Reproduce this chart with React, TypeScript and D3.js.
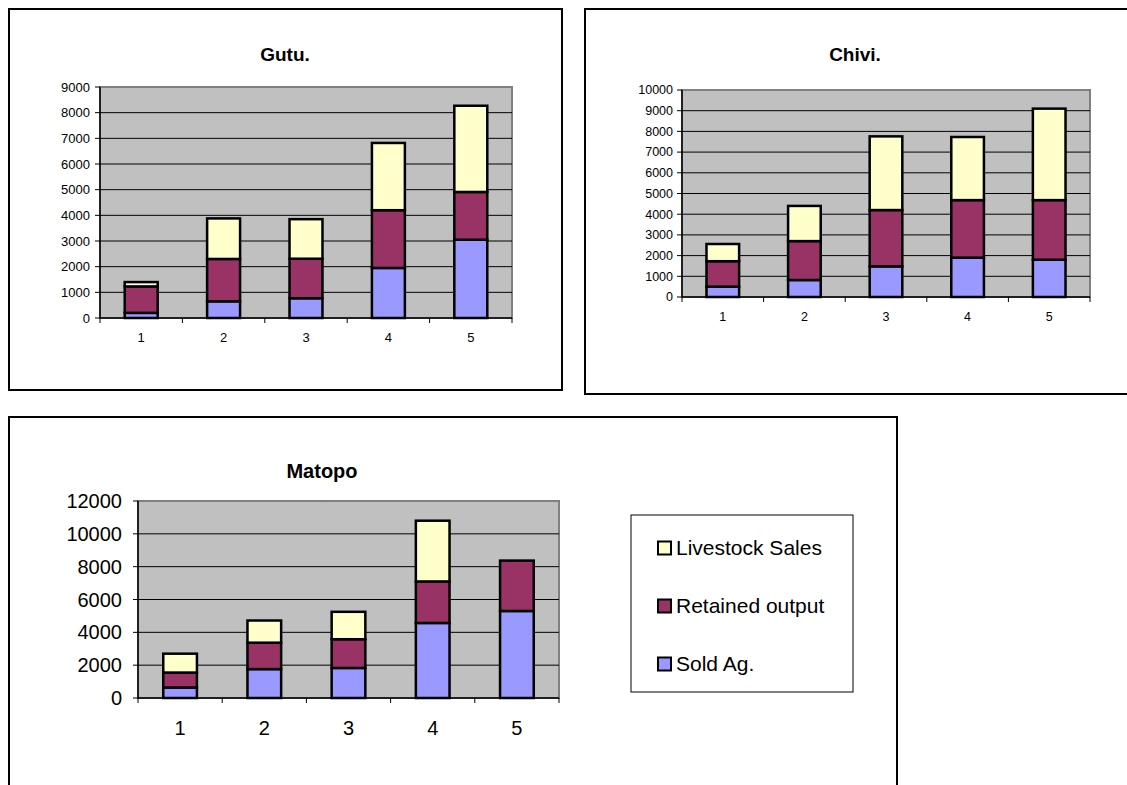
import React from "react";
import * as d3 from "d3";

const categories = ["1", "2", "3", "4", "5"];
const seriesKeys = ["sold", "retained", "livestock"];
const seriesLabels = ["Sold Ag.", "Retained output", "Livestock Sales"];
const seriesColors = ["#9999FF", "#993366", "#FFFFCC"];

const gutuSold = [200, 650, 770, 1950, 3050];
const gutuRetained = [1030, 1650, 1540, 2250, 1860];
const gutuLivestock = [170, 1580, 1540, 2620, 3360];
const gutuTicks = [0, 1000, 2000, 3000, 4000, 5000, 6000, 7000, 8000, 9000];

const chiviSold = [500, 820, 1480, 1900, 1800];
const chiviRetained = [1230, 1880, 2720, 2780, 2880];
const chiviLivestock = [830, 1700, 3560, 3050, 4420];
const chiviTicks = [0, 1000, 2000, 3000, 4000, 5000, 6000, 7000, 8000, 9000, 10000];

const matopoSold = [640, 1760, 1830, 4570, 5300];
const matopoRetained = [910, 1610, 1750, 2530, 3070];
const matopoLivestock = [1150, 1350, 1670, 3700, 0];
const matopoTicks = [0, 2000, 4000, 6000, 8000, 10000, 12000];

const FONT = "Arial, 'Liberation Sans', Helvetica, sans-serif";

type Rect = { x: number; y: number; w: number; h: number };

function build(sold: number[], retained: number[], livestock: number[]) {
  return categories.map((c, i) => ({
    cat: c,
    sold: sold[i],
    retained: retained[i],
    livestock: livestock[i],
  }));
}

function StackChart(props: {
  title: string;
  box: Rect;
  plot: Rect;
  titleX: number;
  titleY: number;
  titleSize: number;
  tickSize: number;
  labelGap: number;
  xLabelOffset: number;
  ticks: number[];
  data: any[];
}) {
  const { title, box, plot, titleX, titleY, titleSize, tickSize, labelGap, xLabelOffset, ticks, data } = props;
  const yMax = ticks[ticks.length - 1];
  const x = d3
    .scaleBand()
    .domain(categories)
    .range([plot.x, plot.x + plot.w])
    .paddingInner(0.6)
    .paddingOuter(0.3);
  const y = d3.scaleLinear().domain([0, yMax]).range([plot.y + plot.h, plot.y]);
  const stacked = d3.stack().keys(seriesKeys)(data);
  const step = plot.w / categories.length;
  const bottom = plot.y + plot.h;
  return (
    <g>
      <rect x={box.x} y={box.y} width={box.w} height={box.h} fill="#fff" stroke="#000" strokeWidth={2} />
      <text x={titleX} y={titleY} textAnchor="middle" fontFamily={FONT} fontWeight="bold" fontSize={titleSize} fill="#000">
        {title}
      </text>
      <rect x={plot.x} y={plot.y} width={plot.w} height={plot.h} fill="#C0C0C0" stroke="#808080" strokeWidth={2} />
      {ticks.slice(1, -1).map((t) => (
        <line key={"g" + t} x1={plot.x} x2={plot.x + plot.w} y1={y(t)} y2={y(t)} stroke="#000" strokeWidth={1} />
      ))}
      {stacked.map((s, si) =>
        s.map((d, i) => {
          const h = y(d[0]) - y(d[1]);
          if (h <= 0) return null;
          return (
            <rect
              key={si + "-" + i}
              x={x(categories[i])}
              y={y(d[1])}
              width={x.bandwidth()}
              height={h}
              fill={seriesColors[si]}
              stroke="#000"
              strokeWidth={2.5}
            />
          );
        })
      )}
      <line x1={plot.x} x2={plot.x} y1={plot.y} y2={bottom} stroke="#000" strokeWidth={1.5} />
      <line x1={plot.x} x2={plot.x + plot.w} y1={bottom} y2={bottom} stroke="#000" strokeWidth={1.5} />
      {ticks.map((t) => (
        <g key={"t" + t}>
          <line x1={plot.x - 5} x2={plot.x} y1={y(t)} y2={y(t)} stroke="#000" strokeWidth={1} />
          <text
            x={plot.x - labelGap}
            y={y(t)}
            dy="0.35em"
            textAnchor="end"
            fontFamily={FONT}
            fontSize={tickSize}
            fill="#000"
          >
            {t}
          </text>
        </g>
      ))}
      {d3.range(categories.length + 1).map((i) => (
        <line key={"xt" + i} x1={plot.x + i * step} x2={plot.x + i * step} y1={bottom} y2={bottom + 5} stroke="#000" strokeWidth={1} />
      ))}
      {categories.map((c) => (
        <text
          key={"xl" + c}
          x={(x(c) as number) + x.bandwidth() / 2}
          y={bottom + xLabelOffset}
          dy="0.35em"
          textAnchor="middle"
          fontFamily={FONT}
          fontSize={tickSize}
          fill="#000"
        >
          {c}
        </text>
      ))}
    </g>
  );
}

export default function App() {
  const gutuData = build(gutuSold, gutuRetained, gutuLivestock);
  const chiviData = build(chiviSold, chiviRetained, chiviLivestock);
  const matopoData = build(matopoSold, matopoRetained, matopoLivestock);
  const legendItems = [2, 1, 0];
  return (
    <svg
      width={1127}
      height={785}
      style={{ position: "absolute", left: 0, top: 0, background: "#fff" }}
    >
      <StackChart
        title="Gutu."
        box={{ x: 9, y: 9, w: 553, h: 381 }}
        plot={{ x: 100, y: 87, w: 412, h: 231 }}
        titleX={285}
        titleY={61}
        titleSize={19}
        tickSize={13}
        labelGap={10}
        xLabelOffset={19}
        ticks={gutuTicks}
        data={gutuData}
      />
      <StackChart
        title="Chivi."
        box={{ x: 585, y: 9, w: 560, h: 385 }}
        plot={{ x: 682, y: 90, w: 408, h: 207 }}
        titleX={855}
        titleY={61}
        titleSize={19}
        tickSize={12.5}
        labelGap={9}
        xLabelOffset={20}
        ticks={chiviTicks}
        data={chiviData}
      />
      <g>
        <StackChart
          title="Matopo"
          box={{ x: 9, y: 417, w: 888, h: 400 }}
          plot={{ x: 138, y: 501, w: 421, h: 197 }}
          titleX={322}
          titleY={478}
          titleSize={20}
          tickSize={20}
          labelGap={16}
          xLabelOffset={30}
          ticks={matopoTicks}
          data={matopoData}
        />
        <rect x={631} y={515} width={222} height={177} fill="#fff" stroke="#000" strokeWidth={1} />
        {legendItems.map((si, k) => (
          <g key={"lg" + si} transform={`translate(0, ${548 + k * 58})`}>
            <rect x={658} y={-6.5} width={13} height={13} fill={seriesColors[si]} stroke="#000" strokeWidth={2} />
            <text x={676} y={0} dy="0.35em" fontFamily={FONT} fontSize={21} fill="#000">
              {seriesLabels[si]}
            </text>
          </g>
        ))}
      </g>
    </svg>
  );
}
